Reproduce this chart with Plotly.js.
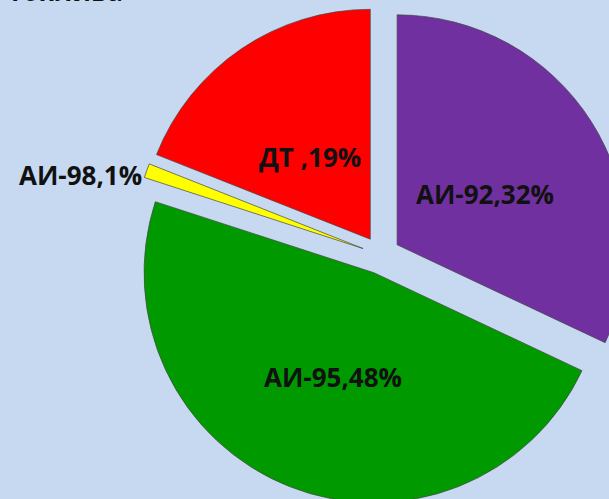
<!DOCTYPE html>
<html>
<head>
<meta charset="utf-8">
<script src="https://cdn.plot.ly/plotly-3.0.1.min.js"></script>
<style>
html,body{margin:0;padding:0;background:#c6d9f0;overflow:hidden;width:609px;height:499px;}
#chart{width:630px;height:510px;}
</style>
</head>
<body>
<div id="chart"></div>
<script>
// Data
const labels = ['АИ-92', 'АИ-95', 'АИ-98', 'ДТ'];
const values = [32, 48, 1, 19];
const colors = ['#7030a0', '#009900', '#ffff00', '#ff0000'];
const titleText = 'топлива';

// layout geometry (page pixels)
const W = 630, H = 510, ML = 132, MR = 0, MT = 6, MB = 6;
const pw = W - ML - MR, ph = H - MT - MB;
const px = x => (x - ML) / pw;
const py = y => 1 - (y - MT) / ph;

const labelPos = [[485, 194], [333, 377], [80, 175], [310, 157]];

const annotations = labels.map((l, i) => ({
  xref: 'paper', yref: 'paper',
  x: px(labelPos[i][0]), y: py(labelPos[i][1]),
  xanchor: 'center', yanchor: 'middle',
  text: (l === 'ДТ' ? l + ' ' : l) + ',' + values[i] + '%',
  showarrow: false,
  font: {family: 'Open Sans, sans-serif', size: 26, color: '#111', weight: 'bold'}
}));
annotations.push({
  xref: 'paper', yref: 'paper', x: px(6), y: py(11),
  xanchor: 'left', yanchor: 'bottom',
  text: titleText, showarrow: false,
  font: {family: 'Open Sans, sans-serif', size: 26, color: '#111', weight: 'bold'}
});

const trace = {
  type: 'pie',
  labels: labels,
  values: values,
  sort: false,
  direction: 'clockwise',
  rotation: 0,
  pull: values.map(() => 0.083),
  textinfo: 'none',
  hoverinfo: 'label+percent',
  marker: {colors: colors, line: {color: 'rgba(70,70,70,0.7)', width: 1}},
  showlegend: false
};

Plotly.newPlot('chart', [trace], {
  width: W, height: H,
  margin: {l: ML, r: MR, t: MT, b: MB, pad: 0},
  paper_bgcolor: '#c6d9f0',
  plot_bgcolor: '#c6d9f0',
  showlegend: false,
  annotations: annotations
}, {displayModeBar: false, staticPlot: true});
</script>
</body>
</html>
